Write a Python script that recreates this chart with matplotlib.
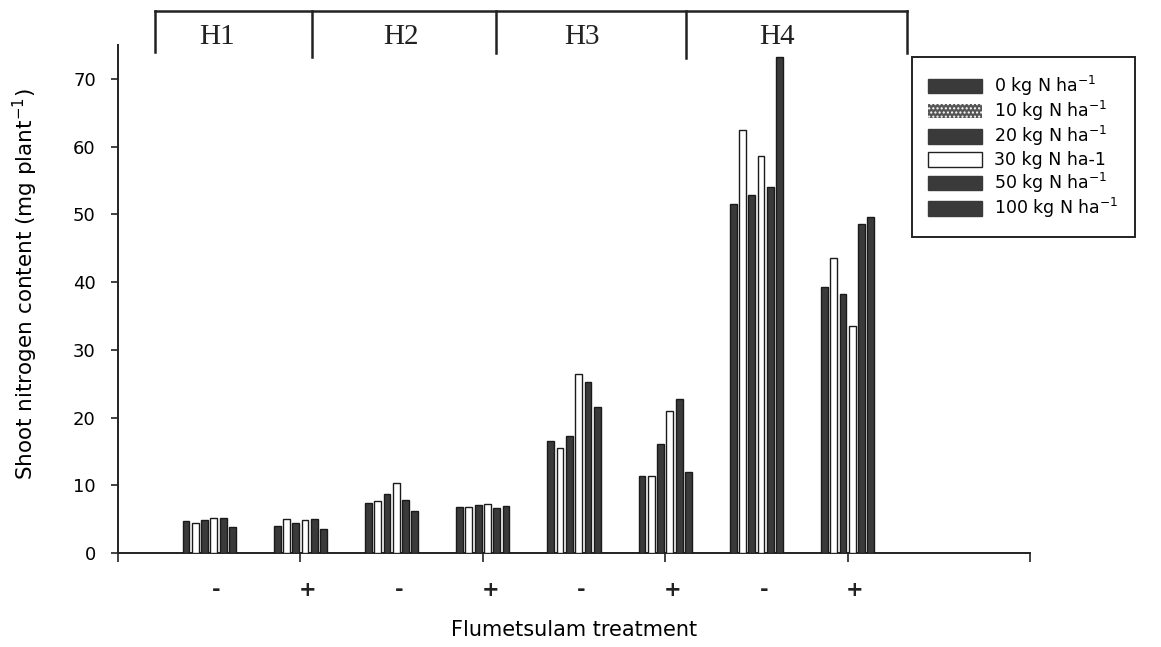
import numpy as np
import matplotlib.pyplot as plt
from matplotlib.lines import Line2D
from matplotlib.patches import Patch, Rectangle
from matplotlib.legend_handler import HandlerPatch

# Data (mg plant^-1)
groups = ["H1 -", "H1 +", "H2 -", "H2 +", "H3 -", "H3 +", "H4 -", "H4 +"]
treat_labels = ["-", "+", "-", "+", "-", "+", "-", "+"]
herb_labels = ["H1", "H2", "H3", "H4"]
n0 = [4.7, 4.0, 7.4, 6.8, 16.5, 11.4, 51.5, 39.3]
n10 = [4.5, 5.0, 7.7, 6.8, 15.5, 11.4, 62.4, 43.6]
n20 = [4.8, 4.4, 8.7, 7.1, 17.2, 16.1, 52.8, 38.2]
n30 = [5.2, 4.8, 10.4, 7.3, 26.4, 21.0, 58.6, 33.5]
n50 = [5.1, 5.0, 7.8, 6.6, 25.3, 22.8, 54.1, 48.5]
n100 = [3.8, 3.5, 6.2, 6.9, 21.6, 12.0, 73.3, 49.6]

series = [n0, n10, n20, n30, n50, n100]
series_labels = ["0 kg N ha$^{-1}$", "10 kg N ha$^{-1}$", "20 kg N ha$^{-1}$",
                 "30 kg N ha-1", "50 kg N ha$^{-1}$", "100 kg N ha$^{-1}$"]
face = ["#3a3a3a", "white", "#3a3a3a", "white", "#3a3a3a", "#3a3a3a"]

plt.rcParams['font.family'] = ['DejaVu Sans']

W, H = 1161, 647
fig = plt.figure(figsize=(W / 100, H / 100), dpi=100)
ax = fig.add_axes([118 / W, 1 - 553 / H, (1030 - 118) / W, (553 - 45) / H])

x = np.arange(1, len(groups) + 1)
pitch = 0.102
width = 0.075
for k, vals in enumerate(series):
    ax.bar(x + (k - 2.5) * pitch, vals, width=width, color=face[k],
           edgecolor="#1a1a1a", linewidth=1.0, zorder=3)

ax.set_xlim(0, 10)
ax.set_ylim(0, 75)
ax.set_yticks(np.arange(0, 71, 10))
ax.set_xticks(np.arange(0, 11, 2))
ax.set_xticklabels([])
ax.tick_params(axis="x", direction="out", length=6.5, width=1.2, color="#222222")
ax.tick_params(axis="y", direction="out", length=5, width=1.2, color="#222222",
               labelsize=13, pad=11)
for s in ["top", "right"]:
    ax.spines[s].set_visible(False)
for s in ["left", "bottom"]:
    ax.spines[s].set_linewidth(1.4)
    ax.spines[s].set_color("#222222")

# treatment signs under each group
for xi, lab in zip(x, treat_labels):
    ax.text(xi + 0.08, -0.073, lab, transform=ax.get_xaxis_transform(),
            ha="center", va="center", fontsize=15, fontweight="bold", color="#222222")

ax.set_ylabel("Shoot nitrogen content (mg plant$^{-1}$)", fontsize=15.5)
ax.yaxis.set_label_coords(-0.085, 0.53)
ax.set_xlabel("Flumetsulam treatment", fontsize=15, labelpad=38)

# Herbicide brackets above the plot
def fx(px):
    return px / W

def fy(py):
    return 1 - py / H

top = 11
fig.add_artist(Line2D([fx(155), fx(907)], [fy(top), fy(top)], color="#222222", lw=1.8))
for px, bottom in [(155, 52), (312, 57), (496, 53), (686, 58), (907, 53)]:
    fig.add_artist(Line2D([fx(px), fx(px)], [fy(top), fy(bottom)], color="#222222", lw=1.8))
for lab, px in zip(herb_labels, [217, 401, 582, 777]):
    fig.text(fx(px), fy(37), lab, fontsize=21, family="Liberation Serif",
             ha="center", va="center", color="#222222")


def bar_handle(legend, orig_handle, xdescent, ydescent, width, height, fontsize):
    h = 0.82 * fontsize
    return Rectangle((-xdescent, -ydescent + (height - h) / 2), width, h)


handles = []
for k, lab in enumerate(series_labels):
    if k == 1:
        handles.append(Patch(facecolor="#555555", edgecolor="white", hatch="....",
                             linewidth=0.0, label=lab))
    elif face[k] == "white":
        handles.append(Patch(facecolor="white", edgecolor="#222222", linewidth=1.0, label=lab))
    else:
        handles.append(Patch(facecolor="#3a3a3a", edgecolor="#3a3a3a", linewidth=1.0, label=lab))

leg = fig.legend(handles=handles, loc="upper left", bbox_to_anchor=(fx(912), fy(57)),
                 handler_map={Patch: HandlerPatch(patch_func=bar_handle)},
                 fontsize=12.5, handlelength=3.1, handleheight=1.42, labelspacing=0.07,
                 handletextpad=0.7, borderpad=0.95, borderaxespad=0, fancybox=False,
                 frameon=True, edgecolor="#222222", framealpha=1)
leg.get_frame().set_linewidth(1.4)

fig.savefig("out.png", dpi=100)
